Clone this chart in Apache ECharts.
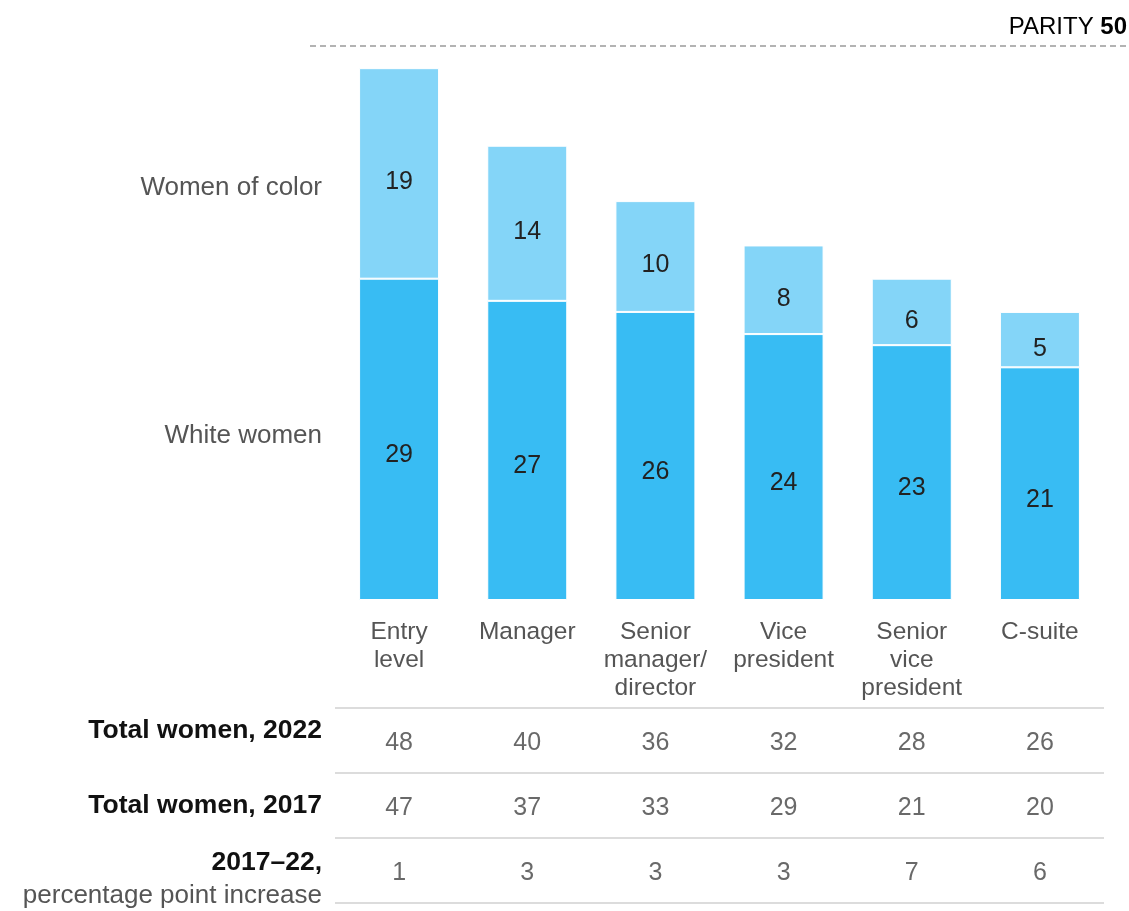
<!DOCTYPE html>
<html>
<head>
<meta charset="utf-8">
<script src="https://cdn.jsdelivr.net/npm/echarts@6/dist/echarts.min.js"></script>
<style>
  html, body { margin: 0; padding: 0; background: #fff; }
  #main { width: 1129px; height: 911px; }
</style>
</head>
<body>
<div id="main"></div>
<script>
// data
const categories = ['Entry\nlevel', 'Manager', 'Senior\nmanager/\ndirector', 'Vice\npresident', 'Senior\nvice\npresident', 'C-suite'];
const whiteWomen = [29, 27, 26, 24, 23, 21];
const womenOfColor = [19, 14, 10, 8, 6, 5];
const total2022 = [48, 40, 36, 32, 28, 26];
const total2017 = [47, 37, 33, 29, 21, 20];
const ppIncrease = [1, 3, 3, 3, 7, 6];
const rowLabels = ['Total women, 2022', 'Total women, 2017', '2017–22,\npercentage point increase'];
const parity = 50;

const FONT = "'Liberation Sans', Arial, sans-serif";
const chart = echarts.init(document.getElementById('main'));

// table cells: [column, row, value]
const tableCells = [];
[total2022, total2017, ppIncrease].forEach(function (row, r) {
  row.forEach(function (v, c) { tableCells.push([c, r, v]); });
});

const option = {
  backgroundColor: '#fff',
  animation: false,
  textStyle: { fontFamily: FONT },
  grid: [
    { left: 335, right: 25, top: 46, bottom: 311 },
    { left: 335, right: 25, top: 708, bottom: 8 }
  ],
  xAxis: [{
    type: 'category',
    gridIndex: 0,
    data: categories,
    axisLine: { show: false },
    axisTick: { show: false },
    axisLabel: { color: '#555', fontSize: 24.5, lineHeight: 28, margin: 18, interval: 0, fontFamily: FONT }
  }, {
    type: 'category',
    gridIndex: 1,
    data: categories,
    show: false
  }],
  yAxis: [{
    type: 'value',
    gridIndex: 0,
    min: 0,
    max: parity,
    show: false
  }, {
    type: 'category',
    gridIndex: 1,
    data: rowLabels,
    inverse: true,
    axisLine: { show: false },
    axisTick: { show: false },
    splitLine: { show: true, lineStyle: { color: '#dcdcdc', width: 2 } },
    axisLabel: {
      margin: 13,
      formatter: function (v, i) {
        const parts = v.split('\n');
        // spacer lines nudge the first and last row labels like the original
        if (parts.length > 1) return '{s1| }\n{b|' + parts[0] + '}\n{r|' + parts[1] + '}';
        return i === 0 ? '{b|' + v + '}\n{s2| }' : '{b|' + v + '}';
      },
      rich: {
        b: { fontSize: 26.5, fontWeight: 'bold', color: '#111', lineHeight: 33, fontFamily: FONT, align: 'right' },
        r: { fontSize: 26, color: '#555', lineHeight: 33, fontFamily: FONT, align: 'right' },
        s1: { fontSize: 1, lineHeight: 17 },
        s2: { fontSize: 1, lineHeight: 19 }
      }
    }
  }],
  series: [{
    name: 'White women',
    type: 'bar',
    stack: 'women',
    barWidth: 80,
    data: whiteWomen,
    itemStyle: { color: '#38bcf3', borderColor: '#fff', borderWidth: 1 },
    label: { show: true, position: 'inside', offset: [0, 16], color: '#222', fontSize: 25, fontFamily: FONT }
  }, {
    name: 'Women of color',
    type: 'bar',
    stack: 'women',
    barWidth: 80,
    data: womenOfColor,
    itemStyle: { color: '#84d5f8', borderColor: '#fff', borderWidth: 1 },
    label: { show: true, position: 'inside', offset: [0, 9], color: '#222', fontSize: 25, fontFamily: FONT }
  }, {
    name: 'table',
    type: 'scatter',
    xAxisIndex: 1,
    yAxisIndex: 1,
    symbolSize: 0,
    data: tableCells,
    label: {
      show: true,
      position: 'inside',
      offset: [0, 3],
      formatter: function (p) { return p.value[2]; },
      color: '#444',
      fontSize: 25,
      fontFamily: FONT
    }
  }]
};

chart.setOption(option);

// parity line and series names placed through the axis scales
const yParity = chart.convertToPixel({ yAxisIndex: 0 }, parity);
const yColor = chart.convertToPixel({ yAxisIndex: 0 }, whiteWomen[0] + womenOfColor[0] / 2) + 14;
const yWhite = chart.convertToPixel({ yAxisIndex: 0 }, whiteWomen[0] / 2) - 4;

chart.setOption({
  graphic: [{
    type: 'line',
    shape: { x1: 310, y1: yParity, x2: 1129, y2: yParity },
    style: { stroke: '#9a9a9a', lineWidth: 1.5, lineDash: [6, 4] }
  }, {
    type: 'text',
    x: 1127,
    y: yParity - 19,
    style: {
      text: '{n|PARITY }{b|' + parity + '}',
      align: 'right',
      verticalAlign: 'middle',
      rich: {
        n: { fontSize: 24, color: '#555', fontFamily: FONT },
        b: { fontSize: 24, color: '#222', fontWeight: 'bold', fontFamily: FONT }
      }
    }
  }, {
    type: 'text',
    x: 322,
    y: yColor,
    style: { text: 'Women of color', align: 'right', verticalAlign: 'middle', fontSize: 26, fill: '#555', fontFamily: FONT }
  }, {
    type: 'text',
    x: 322,
    y: yWhite,
    style: { text: 'White women', align: 'right', verticalAlign: 'middle', fontSize: 26, fill: '#555', fontFamily: FONT }
  }]
});
</script>
</body>
</html>
